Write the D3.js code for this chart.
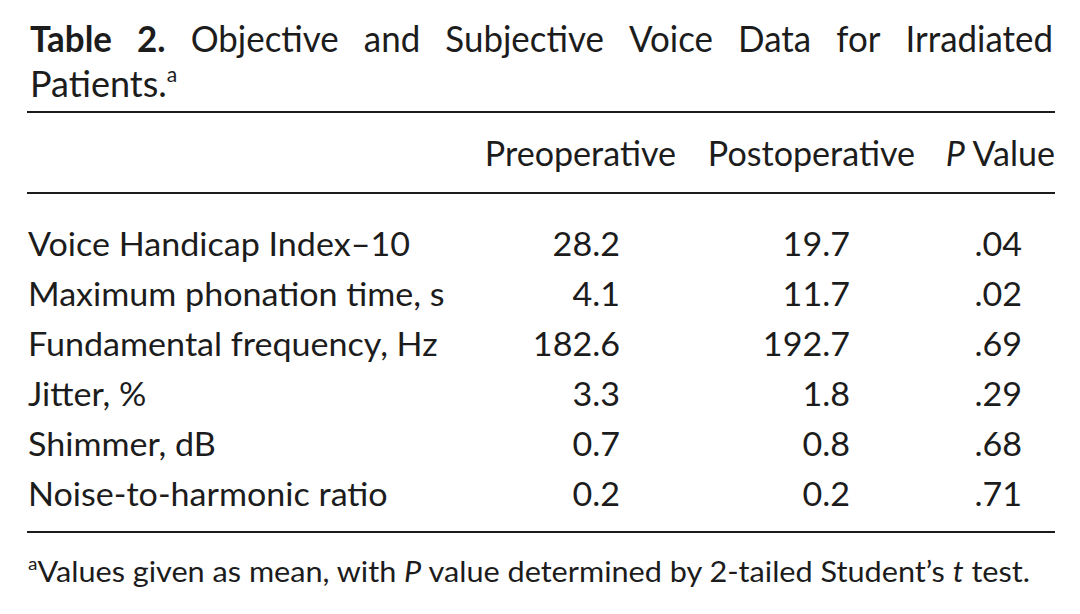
<!DOCTYPE html>
<html>
<head>
<meta charset="utf-8">
<script src="https://cdn.jsdelivr.net/npm/d3@7"></script>
<style>
  html, body { margin: 0; padding: 0; background: #fff; }
  svg { display: block; font-family: Lato, "Open Sans", sans-serif; }
  text { fill: #1c1c1c; }
</style>
</head>
<body>
<svg id="chart" width="1080" height="614"></svg>
<script>
// table content
var titleWords = ["Objective", "and", "Subjective", "Voice", "Data", "for", "Irradiated"];
var columns = ["Preoperative", "Postoperative", "P Value"];
var rowLabels = [
  "Voice Handicap Index\u201310",
  "Maximum phonation time, s",
  "Fundamental frequency, Hz",
  "Jitter, %",
  "Shimmer, dB",
  "Noise-to-harmonic ratio"
];
var preop = [28.2, 4.1, 182.6, 3.3, 0.7, 0.2];
var postop = [19.7, 11.7, 192.7, 1.8, 0.8, 0.2];
var pValues = [0.04, 0.02, 0.69, 0.29, 0.68, 0.71];

var L = 27, R = 1055;
var svg = d3.select("#chart");

var y = d3.scalePoint().domain(rowLabels).range([256, 506]);
// right edge of each column's header and of its numbers
var xHead = d3.scaleOrdinal().domain(columns).range([676, 915, 1055]);
var xNum = d3.scaleOrdinal().domain(columns).range([620, 850, 1022]);
var fmt1 = d3.format(".1f");
var fmtP = function (v) { return d3.format(".2f")(v).replace(/^0/, ""); };

var BODY = 32;
function squeeze(t, k) {
  var w = t.node().getComputedTextLength();
  t.attr("textLength", w * k).attr("lengthAdjust", "spacingAndGlyphs");
}

// ---- title, justified over line 1 ----
var g1 = svg.append("g");
var words = [{ t: "Table", bold: true }, { t: "2.", bold: true }]
  .concat(titleWords.map(function (w) { return { t: w }; }));
var wEls = words.map(function (w) {
  return g1.append("text").attr("y", 52).attr("font-size", 36)
    .attr("font-weight", w.bold ? 700 : 400).text(w.t);
});
wEls.forEach(function (t) { squeeze(t, 0.97); });
var widths = wEls.map(function (t) { return +t.attr("textLength"); });
var x0 = 30, x1 = 1053;
var gap = (x1 - x0 - d3.sum(widths)) / (words.length - 1);
var cx = x0;
wEls.forEach(function (t, i) { t.attr("x", cx); cx += widths[i] + gap; });

var t2 = svg.append("text").attr("x", 30).attr("y", 97).attr("font-size", 36);
t2.append("tspan").text("Patients.");
t2.append("tspan").attr("font-size", 21).attr("dy", -15).text("a");

// ---- rules ----
[112, 193, 532].forEach(function (ry) {
  svg.append("line").attr("x1", L).attr("x2", R).attr("y1", ry).attr("y2", ry)
    .attr("stroke", "#1c1c1c").attr("stroke-width", 2);
});

// body squeeze factor, from the first row label width in the reference (~382px)
var probe = svg.append("text").attr("font-size", BODY).text(rowLabels[0]);
var bk = 382 / probe.node().getComputedTextLength();
probe.remove();

// ---- header ----
svg.selectAll("text.head").data(columns).enter().append("text")
  .attr("class", "head").attr("x", xHead).attr("y", 166)
  .attr("font-size", BODY * bk).attr("text-anchor", "end")
  .each(function (c) {
    var t = d3.select(this);
    if (c === "P Value") {
      t.append("tspan").attr("font-style", "italic").text("P");
      t.append("tspan").text("\u00a0Value");
    } else t.text(c);
  });

// ---- rows ----
var rows = rowLabels.map(function (r, i) {
  return { label: r, vals: [fmt1(preop[i]), fmt1(postop[i]), fmtP(pValues[i])] };
});
var rowG = svg.selectAll("g.row").data(rows).enter().append("g").attr("class", "row");
rowG.append("text").attr("x", 28).attr("y", function (d) { return y(d.label); })
  .attr("font-size", BODY).text(function (d) { return d.label; })
  .each(function () { squeeze(d3.select(this), bk); });
rowG.each(function (d) {
  var g = d3.select(this);
  columns.forEach(function (c, j) {
    var t = g.append("text").attr("x", xNum(c)).attr("y", y(d.label))
      .attr("font-size", BODY).attr("text-anchor", "end").text(d.vals[j]);
    squeeze(t, bk);
  });
});

// ---- footnote ----
var fn = svg.append("text").attr("x", 28).attr("y", 582).attr("font-size", 29);
fn.append("tspan").attr("font-size", 18).attr("dy", -12).text("a");
fn.append("tspan").attr("dy", 12).text("Values given as mean, with ");
fn.append("tspan").attr("font-style", "italic").text("P");
fn.append("tspan").text(" value determined by 2-tailed Student\u2019s ");
fn.append("tspan").attr("font-style", "italic").text("t");
fn.append("tspan").text(" test.");
fn.attr("textLength", 1030 - 28).attr("lengthAdjust", "spacingAndGlyphs");
</script>
</body>
</html>
